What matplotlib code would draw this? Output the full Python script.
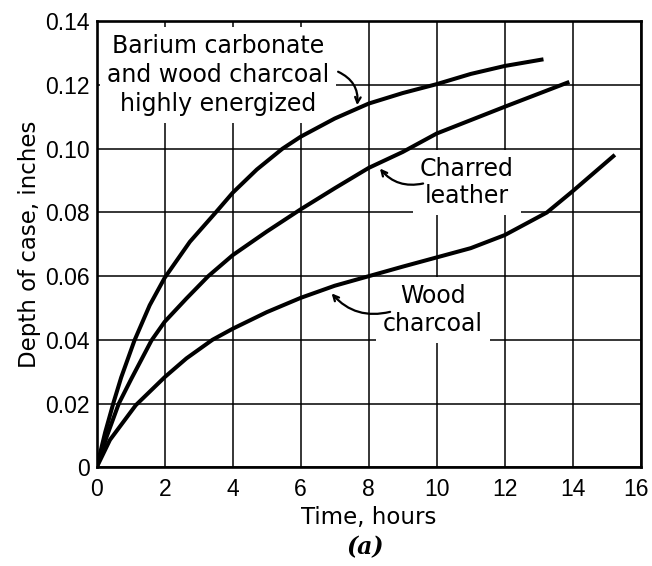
import numpy as np
import matplotlib.pyplot as plt
import matplotlib.transforms as mtransforms

# curves (time in hours, depth in inches)
barium_x = [0, 0.25, 0.5, 0.72, 1.11, 1.56, 2, 2.74, 3.5, 4, 4.71, 5.46, 6,
            7, 8, 9, 10, 11, 12, 13.14]
barium_y = [0, 0.011, 0.0205, 0.0282, 0.0398, 0.0509, 0.0595, 0.0708, 0.08,
            0.0862, 0.0935, 0.10, 0.1038, 0.1095, 0.1142, 0.1175, 0.1203,
            0.1235, 0.126, 0.1281]

leather_x = [0, 0.3, 0.65, 1.01, 1.61, 2, 2.64, 3.28, 4, 5, 6, 7, 8, 9, 10,
             11, 12, 13.9]
leather_y = [0, 0.0098, 0.02, 0.0276, 0.0398, 0.0457, 0.053, 0.06, 0.0666, 0.074,
             0.081, 0.0876, 0.094, 0.099, 0.1048, 0.109, 0.1132, 0.121]

wood_x = [0, 0.39, 1.15, 2, 2.64, 3.4, 4, 5, 6, 7, 8, 9, 10, 11, 12, 13.24,
          14, 15.24]
wood_y = [0, 0.0086, 0.0195, 0.0283, 0.0342, 0.04, 0.0435, 0.0487, 0.0532, 0.057,
          0.06, 0.063, 0.0659, 0.0688, 0.0729, 0.08, 0.0867, 0.0981]

x_ticks = [0, 2, 4, 6, 8, 10, 12, 14, 16]
y_ticks = [0, 0.02, 0.04, 0.06, 0.08, 0.10, 0.12, 0.14]
y_tick_labels = ["0", "0.02", "0.04", "0.06", "0.08", "0.10", "0.12", "0.14"]

fig = plt.figure(figsize=(6.52, 5.66), dpi=100)
ax = fig.add_axes([0.1483, 0.1744, 0.8344, 0.7878])

for xs, ys in [(barium_x, barium_y), (leather_x, leather_y), (wood_x, wood_y)]:
    ax.plot(xs, ys, color="black", lw=2.9, solid_capstyle="butt",
            solid_joinstyle="round", zorder=4)

ax.set_xlim(0, 16)
ax.set_ylim(0, 0.14)
ax.set_xticks(x_ticks)
ax.set_yticks(y_ticks)
ax.set_yticklabels(y_tick_labels)
ax.tick_params(length=0, labelsize=16.5)
ax.tick_params(axis="x", pad=8)
ax.tick_params(axis="y", pad=5)
for lbl in ax.get_xticklabels() + ax.get_yticklabels():
    lbl.set_family("Liberation Sans")
# last x label sits a little left so it stays inside the picture
last = ax.get_xticklabels()[-1]
last.set_transform(last.get_transform() +
                   mtransforms.ScaledTranslation(-0.045, 0, fig.dpi_scale_trans))

ax.set_axisbelow(True)
ax.grid(True, color="black", lw=1.1)
for s in ax.spines.values():
    s.set_linewidth(1.9)

ax.set_xlabel("Time, hours", fontsize=16.5, labelpad=3)
ax.set_ylabel("Depth of case, inches", fontsize=16.5, labelpad=3)
fig.text(0.56, 0.033, "(a)", fontsize=17, family="DejaVu Serif",
         style="italic", weight="bold", ha="center", va="center")

box = dict(boxstyle="square,pad=0.3", facecolor="white", edgecolor="none")
arrow = dict(arrowstyle="->", color="black", lw=1.6, shrinkA=0, shrinkB=0)

ax.text(3.57, 0.1231, "Barium carbonate\nand wood charcoal\nhighly energized",
        fontsize=17, ha="center", va="center", linespacing=1.25, bbox=box, zorder=3)
ax.annotate("", xy=(7.66, 0.1137), xytext=(7.1, 0.1242),
            arrowprops=dict(arrow, connectionstyle="arc3,rad=-0.35"), zorder=5)

ax.text(10.89, 0.0895, "Charred\nleather", fontsize=17, ha="center",
        va="center", linespacing=1.15, bbox=box, zorder=3)
ax.annotate("", xy=(8.33, 0.0938), xytext=(9.6, 0.0891),
            arrowprops=dict(arrow, connectionstyle="arc3,rad=-0.3"), zorder=5)

ax.text(9.89, 0.0494, "Wood\ncharcoal", fontsize=17, ha="center",
        va="center", linespacing=1.2, bbox=box, zorder=3)
ax.annotate("", xy=(6.91, 0.0546), xytext=(8.63, 0.0488),
            arrowprops=dict(arrow, connectionstyle="arc3,rad=-0.3"), zorder=5)

fig.savefig("out.png", dpi=100)
